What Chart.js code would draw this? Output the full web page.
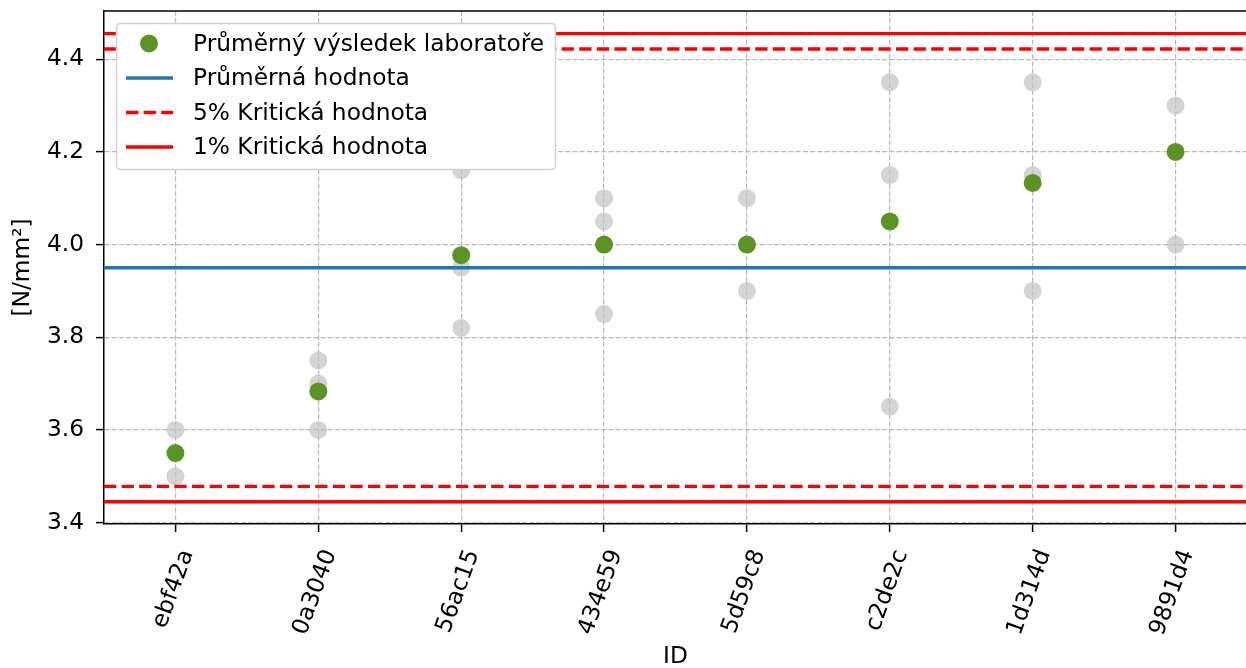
<!DOCTYPE html>
<html>
<head>
<meta charset="utf-8">
<script src="https://cdn.jsdelivr.net/npm/chart.js@4/dist/chart.umd.min.js"></script>
<style>
  html, body { margin: 0; padding: 0; background: #fff; overflow: hidden; }
  #wrap { width: 1256px; height: 668px; }
</style>
</head>
<body>
<div id="wrap"><canvas id="c" width="1256" height="668"></canvas></div>
<script>
// Laboratory IDs on the x axis
const categories = ['ebf42a', '0a3040', '56ac15', '434e59', '5d59c8', 'c2de2c', '1d314d', '9891d4'];

// Individual results of each laboratory [N/mm²]
const labResults = [
  [3.6, 3.5],
  [3.75, 3.7, 3.6],
  [4.16, 3.95, 3.82],
  [4.1, 4.05, 3.85],
  [4.1, 3.9],
  [4.35, 4.15, 3.65],
  [4.35, 4.15, 3.9],
  [4.3, 4.0]
];

// Average result of each laboratory
const labMeans = [3.55, 3.683, 3.977, 4.0, 4.0, 4.05, 4.133, 4.2];

// Overall mean and critical limits (lower, upper)
const meanValue = 3.95;
const crit5 = [3.478, 4.422];
const crit1 = [3.445, 4.455];

// Axis settings
const yTicks = [3.4, 3.6, 3.8, 4.0, 4.2, 4.4];
const yRange = [3.397, 4.504];
const xRange = [-0.5, 7.5];

const FONT = 'DejaVu Sans';
const FS = 23.3;
const GREEN = '#5a9422';
const BLUE = '#1f77b4';
const RED = '#ff0000';
const GRID = '#b8b8b8';

const grayPoints = [];
labResults.forEach((vals, i) => vals.forEach(v => grayPoints.push({ x: i, y: v })));
const meanPoints = labMeans.map((v, i) => ({ x: i, y: v }));
const hline = v => [{ x: xRange[0], y: v }, { x: xRange[1], y: v }];

const lineBase = { type: 'line', pointRadius: 0, borderWidth: 3.3, fill: false, order: 1 };

const datasets = [
  { type: 'scatter', label: 'Výsledek', data: grayPoints, pointRadius: 9, pointHoverRadius: 9,
    backgroundColor: 'rgba(195,195,195,0.72)', borderWidth: 0, order: 3 },
  Object.assign({}, lineBase, { label: 'Průměrná hodnota', data: hline(meanValue), borderColor: BLUE }),
  Object.assign({}, lineBase, { label: '5% Kritická hodnota', data: hline(crit5[0]), borderColor: RED, borderDash: [12.3, 5.3] }),
  Object.assign({}, lineBase, { label: '5% Kritická hodnota', data: hline(crit5[1]), borderColor: RED, borderDash: [12.3, 5.3] }),
  Object.assign({}, lineBase, { label: '1% Kritická hodnota', data: hline(crit1[0]), borderColor: RED }),
  Object.assign({}, lineBase, { label: '1% Kritická hodnota', data: hline(crit1[1]), borderColor: RED }),
  { type: 'scatter', label: 'Průměrný výsledek laboratoře', data: meanPoints, pointRadius: 9, pointHoverRadius: 9,
    backgroundColor: GREEN, borderWidth: 0, order: 0 }
];

// Legend entries (dataset indices), drawn as a framed box inside the plot
const legendEntries = [6, 1, 2, 4];

const framePlugin = {
  id: 'frame',
  afterDatasetsDraw(chart) {
    const { ctx, chartArea: a } = chart;
    ctx.save();
    // top spine
    ctx.strokeStyle = '#000';
    ctx.lineWidth = 1.5;
    ctx.beginPath();
    ctx.moveTo(a.left, a.top);
    ctx.lineTo(a.right + 2, a.top);
    ctx.stroke();

    // legend box
    const bx = 116.5, by = 23.5, bw = 439, bh = 146, r = 4;
    ctx.beginPath();
    ctx.moveTo(bx + r, by);
    ctx.arcTo(bx + bw, by, bx + bw, by + bh, r);
    ctx.arcTo(bx + bw, by + bh, bx, by + bh, r);
    ctx.arcTo(bx, by + bh, bx, by, r);
    ctx.arcTo(bx, by, bx + bw, by, r);
    ctx.closePath();
    ctx.fillStyle = '#ffffff';
    ctx.fill();
    ctx.strokeStyle = '#d0d0d0';
    ctx.lineWidth = 1.5;
    ctx.stroke();

    ctx.font = FS + 'px "' + FONT + '"';
    ctx.textBaseline = 'middle';
    ctx.textAlign = 'left';
    legendEntries.forEach((di, k) => {
      const ds = chart.data.datasets[di];
      const cy = 43.5 + k * 34.5;
      if (ds.type === 'scatter') {
        ctx.fillStyle = ds.backgroundColor;
        ctx.beginPath();
        ctx.arc(149, cy, 9, 0, Math.PI * 2);
        ctx.fill();
      } else {
        ctx.strokeStyle = ds.borderColor;
        ctx.lineWidth = ds.borderWidth;
        ctx.setLineDash(ds.borderDash || []);
        ctx.beginPath();
        ctx.moveTo(126, cy);
        ctx.lineTo(173, cy);
        ctx.stroke();
        ctx.setLineDash([]);
      }
      ctx.fillStyle = '#000';
      ctx.fillText(ds.label, 193, cy + 1);
    });
    ctx.restore();
  }
};

new Chart(document.getElementById('c'), {
  data: { datasets },
  options: {
    responsive: false,
    animation: false,
    devicePixelRatio: 1,
    layout: { padding: { top: 11, left: 0, right: 0, bottom: 0 } },
    plugins: { legend: { display: false }, tooltip: { enabled: false } },
    scales: {
      x: {
        type: 'linear',
        min: xRange[0],
        max: xRange[1],
        afterBuildTicks: s => { s.ticks = categories.map((_, i) => ({ value: i })); },
        afterFit: s => { s.height = 144; s.paddingLeft = 0; s.paddingRight = 0; },
        ticks: {
          autoSkip: false,
          minRotation: 70,
          maxRotation: 70,
          padding: 14,
          labelOffset: 12,
          color: '#000',
          font: { family: FONT, size: FS },
          callback: v => categories[v]
        },
        grid: {
          color: GRID, lineWidth: 1.2, tickLength: 8,
          tickColor: '#000', tickWidth: 1.5, tickBorderDash: []
        },
        border: { display: true, color: '#000', width: 1.5, dash: [5, 2.2] },
        title: { display: true, text: 'ID', color: '#000', font: { family: FONT, size: FS }, padding: { top: 0, bottom: -3 } }
      },
      y: {
        type: 'linear',
        min: yRange[0],
        max: yRange[1],
        afterBuildTicks: s => { s.ticks = yTicks.map(v => ({ value: v })); },
        afterFit: s => { s.width = 104; s.paddingTop = 0; s.paddingBottom = 0; },
        ticks: {
          padding: 12,
          color: '#000',
          font: { family: FONT, size: FS },
          callback: v => Number(v).toFixed(1)
        },
        grid: {
          color: GRID, lineWidth: 1.2, tickLength: 8,
          tickColor: '#000', tickWidth: 1.5, tickBorderDash: []
        },
        border: { display: true, color: '#000', width: 1.5, dash: [5, 2.2] },
        title: { display: true, text: '[N/mm²]', color: '#000', font: { family: FONT, size: FS }, padding: { top: 9, bottom: 0 } }
      }
    }
  },
  plugins: [framePlugin]
});
</script>
</body>
</html>
